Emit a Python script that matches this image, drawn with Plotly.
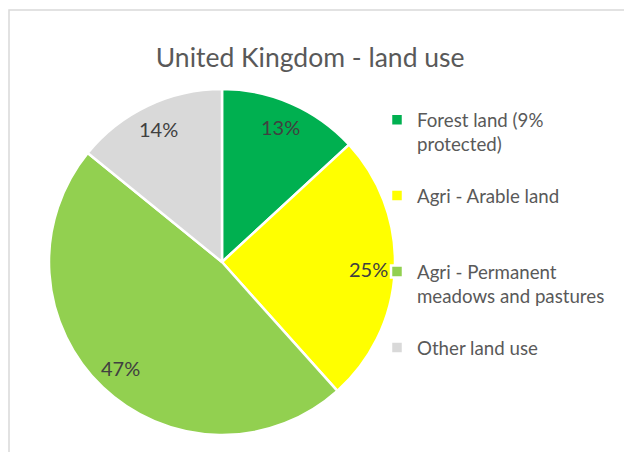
import math
import plotly.graph_objects as go

# ---- data ----
labels = ["Forest land (9%<br>protected)", "Agri - Arable land",
          "Agri - Permanent<br>meadows and pastures", "Other land use"]
values = [13, 25, 47, 14]
colors = ["#00B050", "#FFFF00", "#92D050", "#D9D9D9"]
title_text = "United Kingdom - land use"

# ---- layout geometry (pixels) ----
W, H = 624, 452
CX, CY, R = 222, 262, 173
LABEL_R = 0.85 * R
FONT = "Lato, Open Sans, sans-serif"

# pad legend labels to equal line count for even spacing
max_lines = 3
leg_labels = []
for lab in labels:
    n = lab.count("<br>") + 1
    leg_labels.append(lab + "<br> " * (max_lines - n))

fig = go.Figure()
fig.add_trace(go.Pie(
    labels=leg_labels,
    values=values,
    sort=False,
    direction="clockwise",
    rotation=0,
    marker=dict(colors=colors, line=dict(color="white", width=2.5)),
    textinfo="none",
    hoverinfo="label+value",
    domain=dict(x=[(CX - R) / W, (CX + R) / W], y=[(H - CY - R) / H, (H - CY + R) / H]),
))

# percentage labels placed at slice mid-angles
total = sum(values)
cum = 0
annotations = []
for v in values:
    mid = (cum + v / 2) / total * 2 * math.pi
    cum += v
    px = CX + LABEL_R * math.sin(mid)
    py = CY - LABEL_R * math.cos(mid)
    annotations.append(dict(
        x=px / W, y=1 - py / H, xref="paper", yref="paper",
        text=f"{v}%", showarrow=False,
        font=dict(family=FONT, size=20, color="#404040"),
        xanchor="center", yanchor="middle",
    ))

fig.update_layout(
    width=W, height=H,
    margin=dict(l=0, r=0, t=0, b=0),
    paper_bgcolor="white",
    plot_bgcolor="white",
    title=dict(text=title_text, x=0.497, xanchor="center", y=1 - 58 / H, yanchor="middle",
               font=dict(family=FONT, size=26.5, color="#595959")),
    legend=dict(x=377 / W, y=1 - 101 / H, xanchor="left", yanchor="top",
                valign="top", tracegroupgap=0, bgcolor="rgba(0,0,0,0)",
                font=dict(family=FONT, size=18.7, color="#595959")),
    annotations=annotations,
    shapes=[dict(type="rect", xref="paper", yref="paper",
                 x0=9 / W, x1=1.1, y0=-0.1, y1=1 - 10 / H,
                 line=dict(color="#D9D9D9", width=1.5))],
)

fig.write_html("out.html")
